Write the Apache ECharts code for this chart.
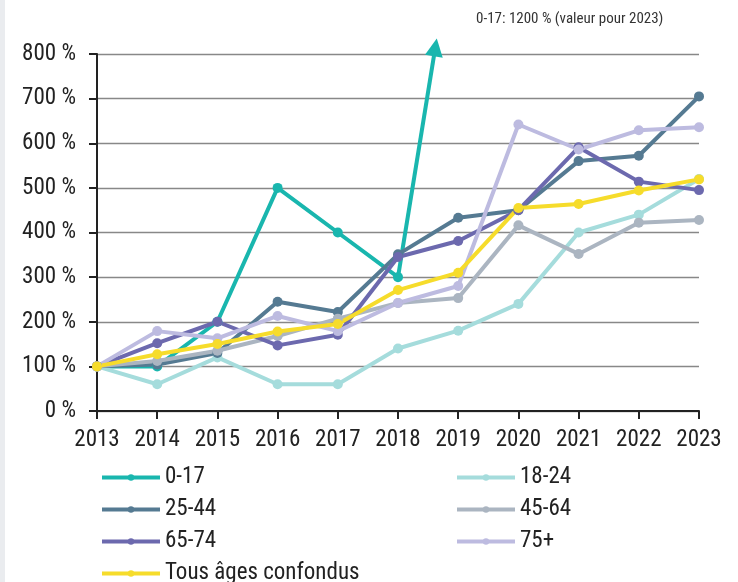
<!DOCTYPE html>
<html>
<head>
<meta charset="utf-8">
<script src="https://cdn.jsdelivr.net/npm/echarts@6/dist/echarts.min.js"></script>
<style>
  html, body { margin: 0; padding: 0; background: #fff; }
  #chart { width: 738px; height: 582px; }
</style>
</head>
<body>
<div id="chart"></div>
<script>
// years on the x axis
var years = [2013, 2014, 2015, 2016, 2017, 2018, 2019, 2020, 2021, 2022, 2023];
var yTicks = [0, 100, 200, 300, 400, 500, 600, 700, 800];

// index values (2013 = 100 %)
var age0_17 = [100, 100, 200, 500, 400, 300];
var age18_24 = [100, 60, 120, 60, 60, 140, 180, 240, 400, 440, 520];
var age25_44 = [100, 104, 130, 245, 222, 351, 433, 450, 560, 572, 705];
var age45_64 = [100, 112, 135, 168, 207, 242, 253, 416, 352, 422, 428];
var age65_74 = [100, 152, 200, 147, 171, 345, 381, 450, 591, 514, 495];
var age75p = [100, 179, 163, 213, 179, 242, 280, 642, 586, 629, 636];
var allAges = [100, 127, 150, 178, 195, 271, 310, 455, 464, 494, 519];

// 0-17 goes off the scale after 2018: arrow from the 2018 point
var arrowFrom = [2018, 300];
var arrowTo = [2018.62, 815];

var font = "'Liberation Sans Narrow', 'Roboto Condensed', 'DejaVu Sans Condensed', sans-serif";

function pairs(vals) {
    return vals.map(function (v, i) { return [years[i], v]; });
}

function lineSeries(name, vals, color) {
    return {
        name: name,
        type: 'line',
        data: pairs(vals),
        symbol: 'circle',
        symbolSize: 10,
        showSymbol: true,
        animation: false,
        clip: false,
        itemStyle: { color: color },
        lineStyle: { color: color, width: 4 }
    };
}

var chart = echarts.init(document.getElementById('chart'));

var legendText = { fontFamily: font, fontSize: 23, lineHeight: 23, color: '#222' };

function legendCol(left, names) {
    return {
        orient: 'vertical',
        left: left,
        top: 466,
        height: 200,
        padding: 0,
        itemWidth: 58,
        itemHeight: 8,
        itemGap: 9,
        lineStyle: { width: 4 },
        textStyle: legendText,
        data: names
    };
}

var option = {
    backgroundColor: '#fff',
    title: {
        text: '0-17: 1200 % (valeur pour 2023)',
        left: 471,
        top: 7,
        textStyle: { fontFamily: font, fontSize: 15, fontWeight: 'normal', color: '#333' }
    },
    graphic: [{
        type: 'rect',
        left: 0, top: 0,
        shape: { width: 5, height: 582 },
        style: { fill: '#eaecef' },
        silent: true
    }],
    grid: { left: 97, right: 39, top: 54, bottom: 171 },
    legend: [
        legendCol(100, ['0-17', '25-44', '65-74', 'Tous âges confondus']),
        legendCol(455, ['18-24', '45-64', '75+'])
    ],
    xAxis: {
        type: 'value',
        min: 2013,
        max: 2023,
        interval: 1,
        axisLine: { lineStyle: { color: '#222', width: 2 } },
        axisTick: { show: true, length: 8, lineStyle: { color: '#222', width: 2 } },
        splitLine: { show: false },
        axisLabel: {
            margin: 18,
            fontFamily: font,
            fontSize: 23,
            color: '#222',
            formatter: function (v) { return String(v); }
        }
    },
    yAxis: {
        type: 'value',
        min: yTicks[0],
        max: yTicks[yTicks.length - 1],
        interval: 100,
        axisLine: { show: true, lineStyle: { color: '#222', width: 2 } },
        axisTick: { show: true, length: 8, lineStyle: { color: '#222', width: 2 } },
        splitLine: { show: true, lineStyle: { color: '#888', width: 1.3 } },
        axisLabel: {
            margin: 21,
            fontFamily: font,
            fontSize: 23,
            color: '#222',
            formatter: function (v) { return v + ' %'; }
        }
    },
    series: [
        {
            name: '0-17 arrow',
            type: 'lines',
            coordinateSystem: 'cartesian2d',
            clip: false,
            silent: true,
            animation: false,
            symbol: ['none', 'triangle'],
            symbolSize: 18,
            lineStyle: { color: '#19b6ae', width: 4, opacity: 1 },
            data: [{ coords: [arrowFrom, arrowTo] }]
        },
        lineSeries('0-17', age0_17, '#19b6ae'),
        lineSeries('18-24', age18_24, '#a5dcdc'),
        lineSeries('25-44', age25_44, '#557a92'),
        lineSeries('45-64', age45_64, '#abb5c1'),
        lineSeries('65-74', age65_74, '#6c69ae'),
        lineSeries('75+', age75p, '#bdbbe0'),
        lineSeries('Tous âges confondus', allAges, '#f6dc2b')
    ]
};

chart.setOption(option);
</script>
</body>
</html>
